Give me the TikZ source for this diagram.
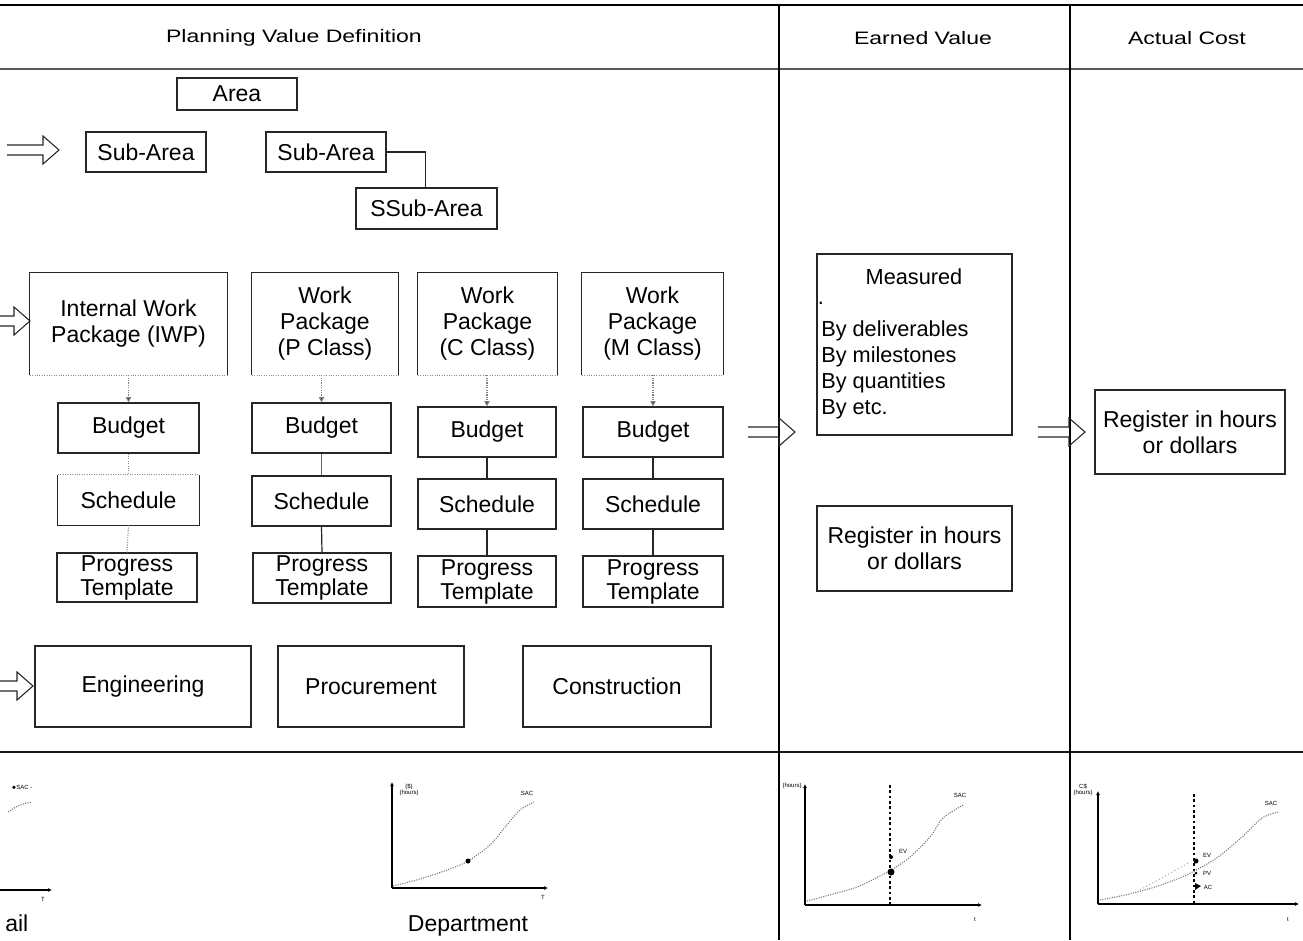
\documentclass[tikz,border=0pt]{standalone}
\usepackage{graphicx}
\usepackage{fontspec}
\setmainfont{Liberation Sans}
\usetikzlibrary{arrows.meta}

\newcommand\boxfont{\fontsize{17.25}{19.5}\selectfont}
\newcommand\tightfont{\fontsize{17.25}{18}\selectfont}
\newcommand\listfont{\fontsize{16.3}{19.5}\selectfont}
\newcommand\headfont{\fontsize{13.5}{16}\selectfont}
\newcommand\chartfont{\fontsize{4.5}{5}\selectfont}
\newcommand\headtext[1]{\scalebox{1.28}[1]{#1}}

\tikzset{
  sz/.style 2 args={minimum width=#1*0.75pt, minimum height=#2*0.75pt},
  box/.style={draw=black!85, line width=0.9pt, inner sep=0pt, align=center, font=\boxfont},
  openbox/.style={inner sep=0pt, align=center, font=\boxfont},
  rule/.style={black, line width=1.1pt},
  link/.style={black!85, line width=0.9pt},
  sides/.style={black!85, line width=0.9pt},
  faint/.style={black!45, line width=0.8pt, densely dotted},
  feed/.style={black!50, line width=0.8pt, densely dotted,
    -{Triangle[length=4pt,width=4pt,fill=black!80]}},
  blockarrow/.style={black!85, line width=0.8pt},
  axis/.style={black, line width=1.2pt, -{Latex[length=3pt,width=3pt]}},
  curve/.style={black!55, line width=0.8pt, densely dotted},
  marker/.style={black, line width=1.1pt, dash pattern=on 2pt off 2pt},
  chartlabel/.style={font=\chartfont, inner sep=0pt, align=center},
  pics/harrow/.style={code={
    \draw[blockarrow] (-#1,-5) -- (-16,-5) -- (-16,-14) -- (0,0)
      -- (-16,14) -- (-16,5) -- (-#1,5);}}
}

\begin{document}
\begin{tikzpicture}[x=0.75pt,y=-0.75pt]
\useasboundingbox (0,0) rectangle (1303,940);

% ---- table frame ----
\draw[black, line width=2pt] (0,5) -- (1303,5);
\draw[black!65, line width=0.9pt] (0,69) -- (1303,69);
\draw[black!90, line width=1.3pt] (0,752) -- (1303,752);
\draw[rule] (779,4) -- (779,940);
\draw[rule] (1070,4) -- (1070,940);

% ---- column headings ----
\node[font=\headfont] (hpv) at (294,38) {\headtext{Planning Value Definition}};
\node[font=\headfont] (hev) at (923,38) {\headtext{Earned Value}};
\node[font=\headfont] (hac) at (1187,38) {\headtext{Actual Cost}};

% ---- area hierarchy ----
\node[box, sz={120}{32}] (area) at (237,94) {Area};
\node[box, sz={120}{40}] (suba) at (146,152) {Sub-Area};
\node[box, sz={120}{40}] (subb) at (326,152) {Sub-Area};
\node[box, sz={141}{41}] (ssub) at (426.5,208.5) {SSub-Area};
\draw[link] (subb.east) -| ([xshift=-1pt]ssub.north);

% ---- work packages (bottom edge left faint) ----
\node[openbox, sz={197}{102}] (wpi) at (128.5,324) {Internal Work\\Package (IWP)};
\node[openbox, sz={146}{102}] (wpp) at (325,324) {Work\\Package\\(P Class)};
\node[openbox, sz={139}{102}] (wpc) at (487.5,324) {Work\\Package\\(C Class)};
\node[openbox, sz={141}{102}] (wpm) at (652.5,324) {Work\\Package\\(M Class)};
\foreach \w in {wpi,wpp,wpc,wpm}{
  \draw[sides] (\w.south west) -- (\w.north west) -- (\w.north east) -- (\w.south east);
  \draw[faint] (\w.south west) -- (\w.south east);
}

% ---- budget / schedule / progress columns ----
\node[box, sz={141}{50}] (budi) at (128.5,428) {Budget};
\node[openbox, sz={141}{50}] (schi) at (128.5,500) {Schedule};
\draw[sides] (schi.north west) -- (schi.south west) -- (schi.south east) -- (schi.north east);
\draw[faint] (schi.north west) -- (schi.north east);
\node[box, font=\tightfont, sz={140}{49}] (progi) at (127,577.5) {Progress\\Template};

\node[box, sz={139}{50}] (budp) at (321.5,428) {Budget};
\node[box, sz={139}{50}] (schp) at (321.5,501) {Schedule};
\node[box, font=\tightfont, sz={138}{50}] (progp) at (322,578) {Progress\\Template};

\node[box, sz={138}{50}] (budc) at (487,432) {Budget};
\node[box, sz={138}{50}] (schc) at (487,504) {Schedule};
\node[box, font=\tightfont, sz={138}{51}] (progc) at (487,581.5) {Progress\\Template};

\node[box, sz={140}{50}] (budm) at (653,432) {Budget};
\node[box, sz={140}{50}] (schm) at (653,504) {Schedule};
\node[box, font=\tightfont, sz={140}{51}] (progm) at (653,581.5) {Progress\\Template};

\draw[feed] (budi.north |- wpi.south) -- (budi.north);
\draw[feed] (budp.north |- wpp.south) -- (budp.north);
\draw[feed] (budc.north |- wpc.south) -- (budc.north);
\draw[feed] (budm.north |- wpm.south) -- (budm.north);

\draw[faint] (budi.south) -- (schi.north);
\draw[faint] (schi.south) -- (progi.north);
\draw[black!60, line width=0.9pt] (budp.south) -- (schp.north);
\draw[link] (schp.south) -- (progp.north);
\draw[link] (budc.south) -- (schc.north);
\draw[link] (schc.south) -- (progc.north);
\draw[link] (budm.south) -- (schm.north);
\draw[link] (schm.south) -- (progm.north);

% ---- departments ----
\node[box, sz={216}{81}] (eng) at (143,686.5) {Engineering};
\node[box, sz={186}{81}] (proc) at (371,686.5) {Procurement};
\node[box, sz={188}{81}] (cons) at (617,686.5) {Construction};

% ---- earned value and actual cost ----
\node[box, sz={195}{181}] (meas) at (914.5,344.5) {};
\node[font=\listfont] (meastitle) at (914,277) {Measured};
\node[font=\listfont, inner sep=0pt] (measdot) at (821,303) {.};
\node[font=\listfont, anchor=north west, align=left, inner sep=0pt] (measlist) at (821,320)
  {By deliverables\\By milestones\\By quantities\\By etc.};
\node[box, sz={195}{85}] (evreg) at (914.5,548.5) {Register in hours\\or dollars};
\node[box, sz={190}{84}] (acreg) at (1190,432) {Register in hours\\or dollars};

% ---- block arrows ----
\pic at (59,150) {harrow=52};
\pic at (30,321) {harrow=30};
\pic at (33,686) {harrow=33};
\pic at (795,432) {harrow=47};
\pic at (1085,432) {harrow=47};

% ---- S-curve, detail level (cut at the left edge) ----
\draw[axis] (0,890) -- (52,890);
\node[chartlabel] (tdet) at (43,899) {T};
\node[chartlabel] (sacdet) at (22,787) {$\bullet$SAC -};
\draw[curve] (8,812) .. controls (16,806) and (24,803) .. (32,802);

% ---- S-curve, department level ----
\draw[axis] (392,888) -- (392,782);
\draw[axis] (392,888) -- (548,888);
\node[chartlabel] (ydep) at (409,790) {(\$)\\(hours)};
\node[chartlabel] (sacdep) at (527,793) {SAC};
\node[chartlabel] (tdep) at (543,897) {T};
\draw[curve] plot[smooth] coordinates {(393,886) (420,879) (450,869) (468,861) (490,845) (506,826) (520,810) (534,802)};
\fill (468,861) circle (2.5);

% ---- S-curve, earned value ----
\draw[axis] (805,905) -- (805,784);
\draw[axis] (805,905) -- (982,905);
\draw[marker] (890,785) -- (890,906);
\node[chartlabel] (yev) at (792,786) {(hours)};
\node[chartlabel] (sacev) at (960,795) {SAC};
\node[chartlabel] (tev) at (975,920) {t};
\draw[curve] plot[smooth] coordinates {(807,901) (833,894) (857,887) (880,876) (893,869) (910,857) (930,837) (943,818) (963,805)};
\fill (891,872) circle (3.5);
\fill (891,857) circle (2);
\node[chartlabel] (evlab) at (903,851) {EV};

% ---- S-curve, actual cost ----
\draw[axis] (1098,904) -- (1098,791);
\draw[axis] (1098,904) -- (1299,904);
\draw[marker] (1194,794) -- (1194,904);
\node[chartlabel] (yac) at (1083,790) {C\$\\(hours)};
\node[chartlabel] (sacac) at (1271,803) {SAC};
\node[chartlabel] (tac) at (1288,920) {t};
\draw[curve] plot[smooth] coordinates {(1100,900) (1125,895) (1155,887) (1182,877) (1198,869) (1218,857) (1242,837) (1262,818) (1278,812)};
\draw[black!40, line width=0.7pt, dotted] (1140,890) -- (1190,862);
\fill (1196,861) circle (2.5);
\node[chartlabel] (evac) at (1207,855) {EV};
\fill (1196,873) circle (1.5);
\node[chartlabel] (pvac) at (1207,873) {PV};
\fill (1195,883) -- (1201,886) -- (1195,890) -- cycle;
\node[chartlabel] (acac) at (1208,887) {AC};

% ---- level captions ----
\node[font=\boxfont, anchor=base west, inner sep=0pt] (detail) at (5,931) {ail};
\node[font=\boxfont, anchor=base, inner sep=0pt] (dept) at (468,931) {Department};
\end{tikzpicture}
\end{document}
